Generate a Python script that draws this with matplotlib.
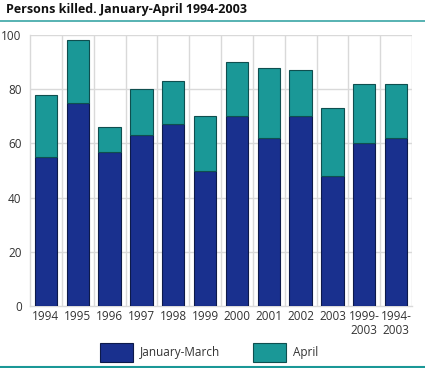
import matplotlib
matplotlib.use("Agg")
import matplotlib.pyplot as plt
from matplotlib.patches import Rectangle
from matplotlib.lines import Line2D

categories = ["1994", "1995", "1996", "1997", "1998", "1999", "2000", "2001", "2002", "2003", "1999-\n2003", "1994-\n2003"]
jan_march = [55, 75, 57, 63, 67, 50, 70, 62, 70, 48, 60, 62]
april = [23, 23, 9, 17, 16, 20, 20, 26, 17, 25, 22, 20]

navy = "#19308e"
teal = "#1a9897"
grid = "#d9d9d9"

plt.rcParams['font.family'] = ['Open Sans', 'DejaVu Sans']

fig = plt.figure(figsize=(4.25, 3.68), dpi=100)
W, H = 425, 368
ax = fig.add_axes([30 / W, 1 - 306 / H, (412 - 30) / W, (306 - 35) / H])

x = list(range(len(categories)))
ax.bar(x, jan_march, width=0.7, color=navy, edgecolor="#0d1a4a", linewidth=0.8, zorder=3)
ax.bar(x, april, bottom=jan_march, width=0.7, color=teal, edgecolor="#0f4f4f", linewidth=0.8, zorder=3)

ax.set_xlim(-0.5, len(categories) - 0.5)
ax.set_ylim(0, 100)
ax.set_yticks(range(0, 101, 20))
ax.set_xticks(x)
ax.set_xticklabels(categories, fontsize=8.5, color="#333333", linespacing=1.1)
ax.tick_params(axis="y", labelsize=8.5, colors="#333333", length=0, pad=6)
ax.tick_params(axis="x", length=0, pad=3)

for yv in range(20, 101, 20):
    ax.axhline(yv, color=grid, linewidth=1, zorder=1)
for xv in range(len(categories)):
    ax.axvline(xv + 0.5, color=grid, linewidth=1, zorder=1)
for s in ["top", "right", "left"]:
    ax.spines[s].set_visible(False)
ax.spines["bottom"].set_color(grid)
ax.spines["bottom"].set_linewidth(1)
ax.plot([-0.5, -0.5], [0, 100], color=grid, linewidth=1, zorder=1, clip_on=False)

fig.text(6 / W, 1 - 10 / H, "Persons killed. January-April 1994-2003", fontsize=9,
         fontweight="bold", va="center", ha="left", color="#111111")
fig.add_artist(Line2D([0, 1], [1 - 20.5 / H, 1 - 20.5 / H], color="#3aa6a6", linewidth=1.2))
fig.add_artist(Line2D([0, 1], [1 - 366.5 / H, 1 - 366.5 / H], color="#1a9897", linewidth=1.5))

# legend
fig.add_artist(Rectangle((100 / W, 1 - 362 / H), 33 / W, 19 / H, facecolor=navy, edgecolor="#0d1a4a", linewidth=0.8))
fig.text(140 / W, 1 - 352.5 / H, "January-March", fontsize=8.5, va="center", ha="left", color="#333333")
fig.add_artist(Rectangle((253 / W, 1 - 362 / H), 33 / W, 19 / H, facecolor=teal, edgecolor="#0f4f4f", linewidth=0.8))
fig.text(293 / W, 1 - 352.5 / H, "April", fontsize=8.5, va="center", ha="left", color="#333333")

fig.savefig("out.png", dpi=100)
